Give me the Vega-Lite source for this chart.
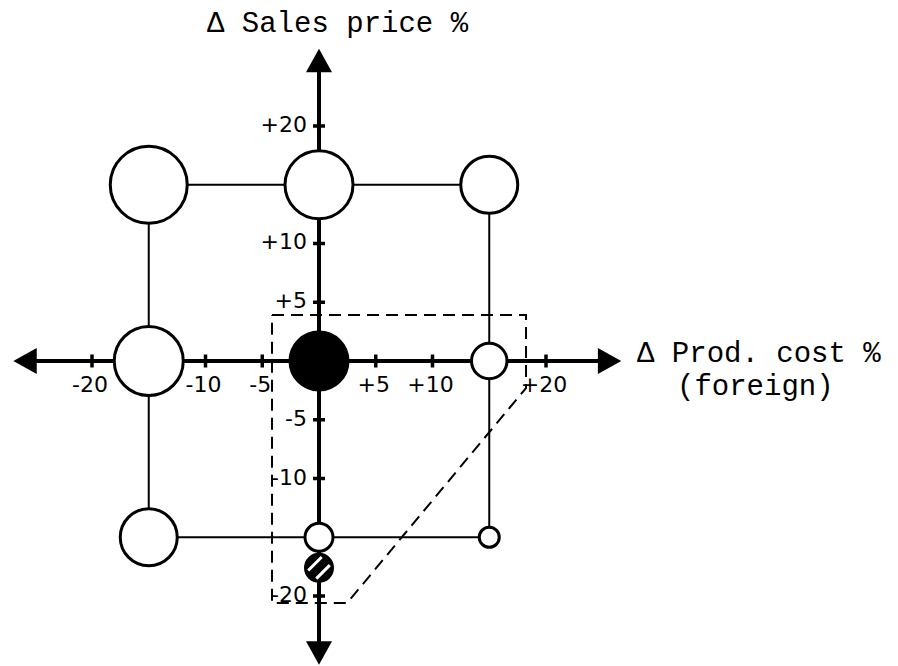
{
  "$schema": "https://vega.github.io/schema/vega-lite/v6.json",
  "width": 898,
  "height": 666,
  "padding": 0,
  "autosize": {"type": "none"},
  "background": "white",
  "config": {"view": {"stroke": null}},
  "datasets": {
    "grid": [
      {"x": -15, "y": 15, "x2": 15, "y2": 15},
      {"x": -15, "y": -15, "x2": 15, "y2": -15},
      {"x": -15, "y": 15, "x2": -15, "y2": -15},
      {"x": 15, "y": 15, "x2": 15, "y2": -15}
    ],
    "axes": [
      {"x": -26, "y": 0, "x2": 26, "y2": 0},
      {"x": 0, "y": 25.5, "x2": 0, "y2": -24.5}
    ],
    "arrows": [
      {"x": 0, "y": 25.57, "dir": "up"},
      {"x": 0, "y": -24.85, "dir": "down"},
      {"x": -25.9, "y": 0, "dir": "left"},
      {"x": 25.6, "y": 0, "dir": "right"}
    ],
    "xticks": [
      {"x": -20, "y": 0, "t": "-20"},
      {"x": -10, "y": 0, "t": "-10"},
      {"x": -5, "y": 0, "t": "-5"},
      {"x": 5, "y": 0, "t": "+5"},
      {"x": 10, "y": 0, "t": "+10"},
      {"x": 20, "y": 0, "t": "+20"}
    ],
    "yticks": [
      {"x": 0, "y": 20, "t": "+20"},
      {"x": 0, "y": 10, "t": "+10"},
      {"x": 0, "y": 5, "t": "+5"},
      {"x": 0, "y": -5, "t": "-5"},
      {"x": 0, "y": -10, "t": "-10"},
      {"x": 0, "y": -20, "t": "-20"}
    ],
    "region": [
      {"x": -4.14, "y": 3.91, "o": 1},
      {"x": 18.24, "y": 3.91, "o": 2},
      {"x": 18.24, "y": -2.3, "o": 3},
      {"x": 2.47, "y": -20.6, "o": 4},
      {"x": -4.14, "y": -20.6, "o": 5},
      {"x": -4.14, "y": 3.91, "o": 6}
    ],
    "circles": [
      {"x": -15, "y": 15, "d": 77, "kind": "open"},
      {"x": 0, "y": 15, "d": 68, "kind": "open"},
      {"x": 15, "y": 15, "d": 57, "kind": "open"},
      {"x": -15, "y": 0, "d": 69, "kind": "open"},
      {"x": 0, "y": 0, "d": 58, "kind": "filled"},
      {"x": 15, "y": 0, "d": 35.5, "kind": "open"},
      {"x": -15, "y": -15, "d": 57, "kind": "open"},
      {"x": 0, "y": -15, "d": 28, "kind": "open"},
      {"x": 15, "y": -15, "d": 20, "kind": "open"},
      {"x": 0, "y": -17.6, "d": 27, "kind": "hatched"}
    ]
  },
  "layer": [
    {
      "data": {"name": "grid"},
      "mark": {"type": "rule", "stroke": "black", "strokeWidth": 2},
      "encoding": {
        "x": {"field": "x", "type": "quantitative", "scale": {"domain": [-28.106, 51.013], "nice": false, "zero": false}, "axis": null},
        "y": {"field": "y", "type": "quantitative", "scale": {"domain": [-25.957, 30.723], "nice": false, "zero": false}, "axis": null},
        "x2": {"field": "x2"},
        "y2": {"field": "y2"}
      }
    },
    {
      "data": {"name": "axes"},
      "mark": {"type": "rule", "stroke": "black", "strokeWidth": 4},
      "encoding": {
        "x": {"field": "x", "type": "quantitative", "scale": {"domain": [-28.106, 51.013], "nice": false, "zero": false}, "axis": null},
        "y": {"field": "y", "type": "quantitative", "scale": {"domain": [-25.957, 30.723], "nice": false, "zero": false}, "axis": null},
        "x2": {"field": "x2"},
        "y2": {"field": "y2"}
      }
    },
    {
      "data": {"name": "arrows"},
      "mark": {"type": "point", "filled": true, "fill": "black", "strokeWidth": 0, "opacity": 1, "size": 676},
      "encoding": {
        "x": {"field": "x", "type": "quantitative", "scale": {"domain": [-28.106, 51.013], "nice": false, "zero": false}, "axis": null},
        "y": {"field": "y", "type": "quantitative", "scale": {"domain": [-25.957, 30.723], "nice": false, "zero": false}, "axis": null},
        "shape": {"field": "dir", "type": "nominal", "legend": null, "scale": {"domain": ["up", "down", "left", "right"], "range": ["M0,-0.9L-1,0.9L1,0.9Z", "M0,0.9L-1,-0.9L1,-0.9Z", "M-0.9,0L0.9,-1L0.9,1Z", "M0.9,0L-0.9,-1L-0.9,1Z"]}}
      }
    },
    {
      "data": {"name": "xticks"},
      "mark": {"type": "point", "shape": "M0,-1L0,1", "filled": false, "stroke": "black", "strokeWidth": 3.5, "opacity": 1, "size": 169},
      "encoding": {
        "x": {"field": "x", "type": "quantitative", "scale": {"domain": [-28.106, 51.013], "nice": false, "zero": false}, "axis": null},
        "y": {"field": "y", "type": "quantitative", "scale": {"domain": [-25.957, 30.723], "nice": false, "zero": false}, "axis": null}
      }
    },
    {
      "data": {"name": "yticks"},
      "mark": {"type": "point", "shape": "M-1,0L1,0", "filled": false, "stroke": "black", "strokeWidth": 3.5, "opacity": 1, "size": 144},
      "encoding": {
        "x": {"field": "x", "type": "quantitative", "scale": {"domain": [-28.106, 51.013], "nice": false, "zero": false}, "axis": null},
        "y": {"field": "y", "type": "quantitative", "scale": {"domain": [-25.957, 30.723], "nice": false, "zero": false}, "axis": null}
      }
    },
    {
      "data": {"name": "region"},
      "mark": {"type": "line", "stroke": "black", "strokeWidth": 2, "strokeDash": [12, 7]},
      "encoding": {
        "x": {"field": "x", "type": "quantitative", "scale": {"domain": [-28.106, 51.013], "nice": false, "zero": false}, "axis": null},
        "y": {"field": "y", "type": "quantitative", "scale": {"domain": [-25.957, 30.723], "nice": false, "zero": false}, "axis": null},
        "order": {"field": "o", "type": "quantitative"}
      }
    },
    {
      "data": {"name": "circles"},
      "mark": {"type": "point", "shape": "circle", "filled": true, "stroke": "black", "strokeWidth": 3, "opacity": 1},
      "encoding": {
        "x": {"field": "x", "type": "quantitative", "scale": {"domain": [-28.106, 51.013], "nice": false, "zero": false}, "axis": null},
        "y": {"field": "y", "type": "quantitative", "scale": {"domain": [-25.957, 30.723], "nice": false, "zero": false}, "axis": null},
        "size": {"field": "d", "type": "quantitative", "legend": null, "scale": {"type": "pow", "exponent": 2, "domain": [0, 100], "range": [0, 10000]}},
        "fill": {"field": "kind", "type": "nominal", "legend": null, "scale": {"domain": ["open", "filled", "hatched"], "range": ["white", "black", "black"]}}
      }
    },
    {
      "data": {"name": "circles"},
      "transform": [{"filter": "datum.kind === 'hatched'"}],
      "mark": {"type": "point", "shape": "M-0.8,0.2L0.2,-0.8M-0.2,0.8L0.8,-0.2", "filled": false, "stroke": "white", "strokeWidth": 3, "opacity": 1, "size": 729},
      "encoding": {
        "x": {"field": "x", "type": "quantitative", "scale": {"domain": [-28.106, 51.013], "nice": false, "zero": false}, "axis": null},
        "y": {"field": "y", "type": "quantitative", "scale": {"domain": [-25.957, 30.723], "nice": false, "zero": false}, "axis": null}
      }
    },
    {
      "data": {"name": "xticks"},
      "mark": {"type": "text", "font": "DejaVu Sans", "fontSize": 22, "align": "center", "baseline": "middle", "dy": 24, "dx": -2, "fill": "black"},
      "encoding": {
        "x": {"field": "x", "type": "quantitative", "scale": {"domain": [-28.106, 51.013], "nice": false, "zero": false}, "axis": null},
        "y": {"field": "y", "type": "quantitative", "scale": {"domain": [-25.957, 30.723], "nice": false, "zero": false}, "axis": null},
        "text": {"field": "t"}
      }
    },
    {
      "data": {"name": "yticks"},
      "mark": {"type": "text", "font": "DejaVu Sans", "fontSize": 22, "align": "right", "baseline": "middle", "dx": -12, "dy": -1, "fill": "black"},
      "encoding": {
        "x": {"field": "x", "type": "quantitative", "scale": {"domain": [-28.106, 51.013], "nice": false, "zero": false}, "axis": null},
        "y": {"field": "y", "type": "quantitative", "scale": {"domain": [-25.957, 30.723], "nice": false, "zero": false}, "axis": null},
        "text": {"field": "t"}
      }
    },
    {
      "data": {"values": [{}]},
      "mark": {"type": "text", "text": "Δ Sales price %", "font": "Liberation Mono", "fontSize": 29, "align": "left", "baseline": "alphabetic", "fill": "black"},
      "encoding": {
        "x": {"datum": -9.868, "type": "quantitative", "scale": {"domain": [-28.106, 51.013], "nice": false, "zero": false}, "axis": null},
        "y": {"datum": 28.0, "type": "quantitative", "scale": {"domain": [-25.957, 30.723], "nice": false, "zero": false}, "axis": null}
      }
    },
    {
      "data": {"values": [{}]},
      "mark": {"type": "text", "text": "Δ Prod. cost %", "font": "Liberation Mono", "fontSize": 29, "align": "left", "baseline": "alphabetic", "fill": "black"},
      "encoding": {
        "x": {"datum": 28.02, "type": "quantitative", "scale": {"domain": [-28.106, 51.013], "nice": false, "zero": false}, "axis": null},
        "y": {"datum": -0.085, "type": "quantitative", "scale": {"domain": [-25.957, 30.723], "nice": false, "zero": false}, "axis": null}
      }
    },
    {
      "data": {"values": [{}]},
      "mark": {"type": "text", "text": "(foreign)", "font": "Liberation Mono", "fontSize": 29, "align": "left", "baseline": "alphabetic", "fill": "black"},
      "encoding": {
        "x": {"datum": 31.54, "type": "quantitative", "scale": {"domain": [-28.106, 51.013], "nice": false, "zero": false}, "axis": null},
        "y": {"datum": -2.894, "type": "quantitative", "scale": {"domain": [-25.957, 30.723], "nice": false, "zero": false}, "axis": null}
      }
    }
  ]
}
